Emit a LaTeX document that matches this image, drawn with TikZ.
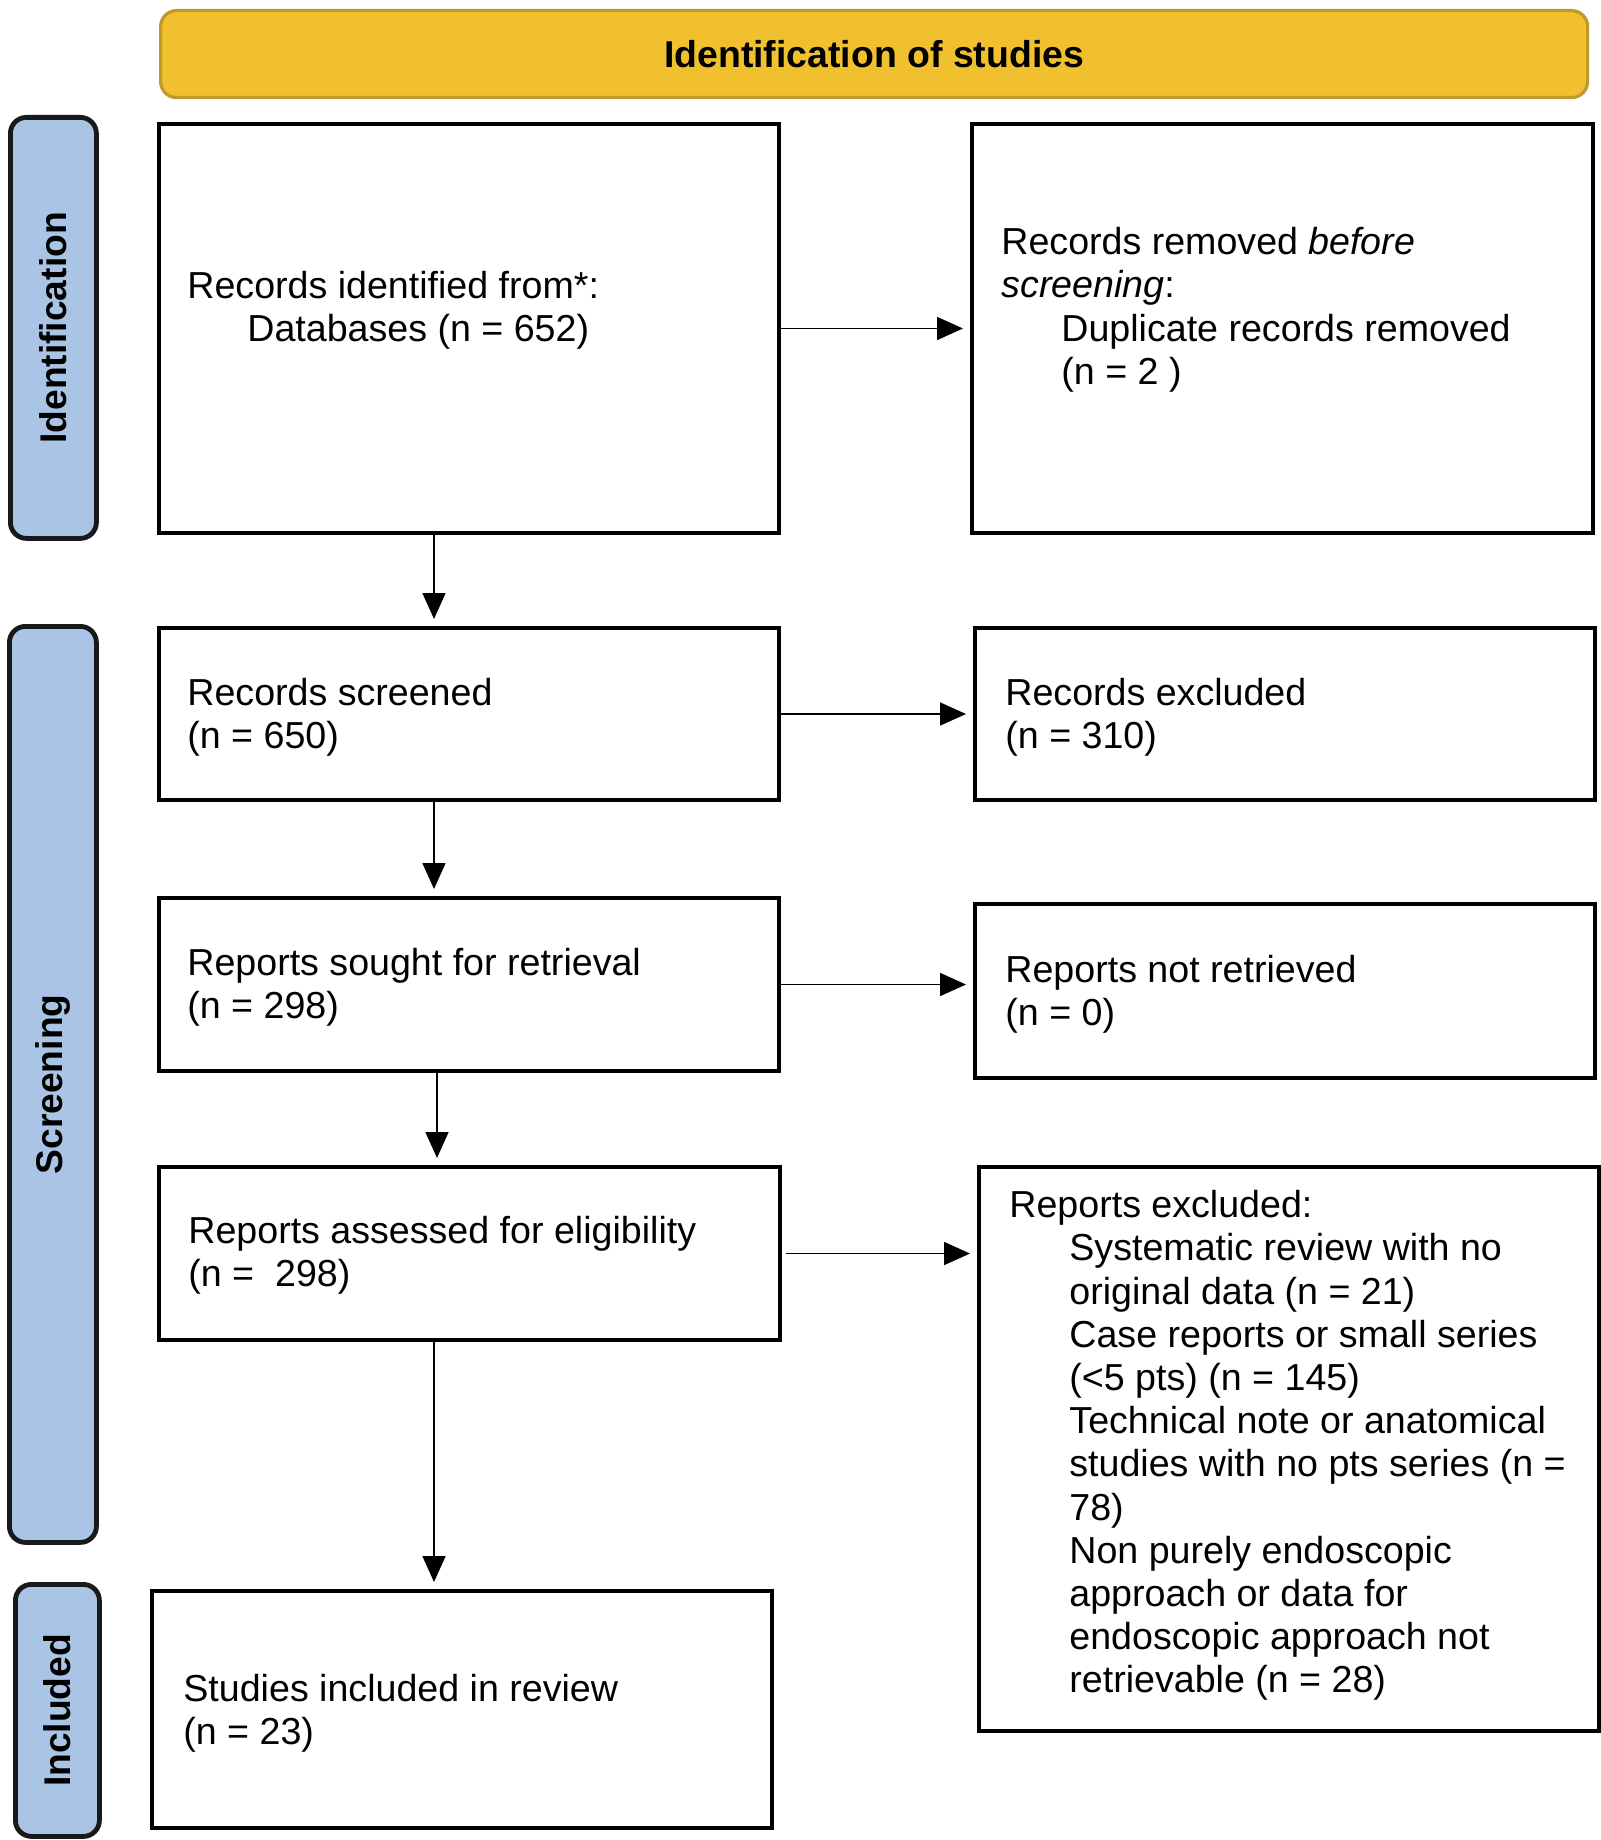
\documentclass[tikz,border=0pt]{standalone}
\usepackage{fontspec}
\setmainfont{Liberation Sans}
\usetikzlibrary{arrows.meta}
\definecolor{hdrfill}{RGB}{240,192,47}
\definecolor{hdrdraw}{RGB}{192,152,44}
\definecolor{lanefill}{RGB}{169,196,229}
\definecolor{lanedraw}{RGB}{25,25,25}
\begin{document}
\begin{tikzpicture}[x=0.5pt,y=-0.5pt,
  boxshape/.style={draw=black, line width=2pt, fill=white, anchor=north west, inner sep=0pt},
  hdrshape/.style={draw=hdrdraw, line width=1.6pt, fill=hdrfill, rounded corners=8pt, anchor=north west, inner sep=0pt,
    font=\fontsize{18.7pt}{21.6pt}\selectfont\bfseries},
  laneshape/.style={draw=lanedraw, line width=2.4pt, fill=lanefill, rounded corners=8pt, anchor=north west, inner sep=0pt},
  lanetext/.style={rotate=90, inner sep=0pt, font=\fontsize{18.6pt}{21.6pt}\selectfont\bfseries},
  txt/.style={anchor=north west, inner sep=0pt, align=left, font=\fontsize{18.8pt}{21.6pt}\selectfont},
  arr/.style={-{Triangle[length=13pt,width=11.5pt]}, line width=0.8pt, shorten >=3.5pt}
]
\useasboundingbox (0,0) rectangle (1600,1840);

% header
\node[hdrshape, minimum width=713.5pt, minimum height=43.5pt] (hdr) at (159,9) {Identification of studies};

% lanes
\node[laneshape, minimum width=43pt, minimum height=210.5pt] (l1) at (8,115) {};
\node[laneshape, minimum width=43.5pt, minimum height=458pt] (l2) at (7,624) {};
\node[laneshape, minimum width=42pt, minimum height=126pt] (l3) at (13,1582) {};
\node[lanetext] (l1t) at (l1.center) {Identification};
\node[lanetext] (l2t) at (l2.center) {Screening};
\node[lanetext] (l3t) at (l3.center) {Included};

% boxes
\node[boxshape, minimum width=310pt, minimum height=204.5pt] (b1) at (157,122) {};
\node[boxshape, minimum width=310.5pt, minimum height=204.5pt] (b2) at (970,122) {};
\node[boxshape, minimum width=310pt, minimum height=86pt] (b3) at (157,626) {};
\node[boxshape, minimum width=310pt, minimum height=86pt] (b4) at (973,626) {};
\node[boxshape, minimum width=310pt, minimum height=86.5pt] (b5) at (157,896) {};
\node[boxshape, minimum width=310pt, minimum height=87pt] (b6) at (973,902) {};
\node[boxshape, minimum width=310.5pt, minimum height=86.5pt] (b7) at (157,1165) {};
\node[boxshape, minimum width=310pt, minimum height=282pt] (b8) at (977,1165) {};
\node[boxshape, minimum width=310pt, minimum height=118.5pt] (b9) at (150,1589) {};

% texts
\node[txt] (t1) at (187,268) {\strut Records identified from*:\\\hspace*{30pt}Databases (n = 652)};
\node[txt] (t2) at (1001,224) {\strut Records removed \textit{before}\\\textit{screening}:\\\hspace*{30pt}Duplicate records removed\\\hspace*{30pt}(n = 2 )};
\node[txt] (t3) at (187,675) {\strut Records screened\\(n = 650)};
\node[txt] (t4) at (1005,675) {\strut Records excluded\\(n = 310)};
\node[txt] (t5) at (187,945) {\strut Reports sought for retrieval\\(n = 298)};
\node[txt] (t6) at (1005,952) {\strut Reports not retrieved\\(n = 0)};
\node[txt] (t7) at (188,1213) {\strut Reports assessed for eligibility\\(n = \ 298)};
\node[txt] (t8) at (1009,1187) {\strut Reports excluded:\\
\hspace*{30pt}Systematic review with no\\
\hspace*{30pt}original data (n = 21)\\
\hspace*{30pt}Case reports or small series\\
\hspace*{30pt}(<5 pts) (n = 145)\\
\hspace*{30pt}Technical note or anatomical\\
\hspace*{30pt}studies with no pts series (n =\\
\hspace*{30pt}78)\\
\hspace*{30pt}Non purely endoscopic\\
\hspace*{30pt}approach or data for\\
\hspace*{30pt}endoscopic approach not\\
\hspace*{30pt}retrievable (n = 28)};
\node[txt] (t9) at (183,1671) {\strut Studies included in review\\(n = 23)};

% arrow columns
\coordinate (ax1) at (434,0);
\coordinate (ax2) at (437,0);

% arrows
\draw[arr] (b1.east) -- (b2.west);
\draw[arr] (b3.east) -- (b3.east -| b4.west);
\draw[arr] (b5.east) -- (b5.east -| b6.west);
\draw[arr, shorten <=2pt] (b7.east) -- (b7.east -| b8.west);
\draw[arr] (b1.south -| ax1) -- (b3.north -| ax1);
\draw[arr] (b3.south -| ax1) -- (b5.north -| ax1);
\draw[arr] (b5.south -| ax2) -- (b7.north -| ax2);
\draw[arr] (b7.south -| ax1) -- (b9.north -| ax1);
\end{tikzpicture}
\end{document}
